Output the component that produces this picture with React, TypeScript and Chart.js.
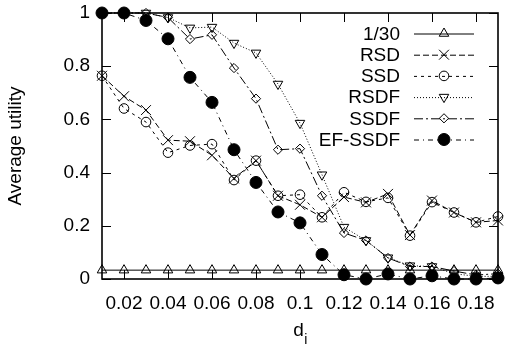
import React, { useEffect, useRef } from 'react';
import { Chart, registerables } from 'chart.js';
import { drawPoint } from 'chart.js/helpers';

Chart.register(...registerables);

const FONT = '"Liberation Sans", Arial, Helvetica, sans-serif';

const xValues = [0.01, 0.02, 0.03, 0.04, 0.05, 0.06, 0.07, 0.08, 0.09, 0.10, 0.11, 0.12, 0.13, 0.14, 0.15, 0.16, 0.17, 0.18, 0.19];

const oneThirty = [0.0333, 0.0333, 0.0333, 0.0333, 0.0333, 0.0333, 0.0333, 0.0333, 0.0333, 0.0333, 0.0333, 0.0333, 0.0333, 0.0333, 0.0333, 0.0333, 0.0333, 0.0333, 0.0333];
const rsd = [0.764, 0.687, 0.635, 0.522, 0.518, 0.465, 0.378, 0.445, 0.313, 0.279, 0.232, 0.308, 0.288, 0.32, 0.165, 0.295, 0.25, 0.213, 0.22];
const ssd = [0.764, 0.641, 0.59, 0.475, 0.502, 0.507, 0.372, 0.445, 0.313, 0.317, 0.232, 0.326, 0.29, 0.305, 0.163, 0.289, 0.25, 0.213, 0.235];
const rsdf = [1, 1, 1, 0.983, 0.944, 0.947, 0.887, 0.85, 0.733, 0.586, 0.392, 0.195, 0.145, 0.08, 0.05, 0.047, 0.02, 0.01, 0.01];
const ssdf = [1, 1, 1, 0.983, 0.902, 0.918, 0.793, 0.678, 0.486, 0.49, 0.313, 0.173, 0.145, 0.079, 0.047, 0.047, 0.03, 0.015, 0.02];
const efSsdf = [1, 1, 0.972, 0.903, 0.758, 0.664, 0.486, 0.363, 0.252, 0.211, 0.092, 0.016, 0, 0.019, 0, 0.012, 0, 0, 0.004];

const seriesLabels = ['1/30', 'RSD', 'SSD', 'RSDF', 'SSDF', 'EF-SSDF'];

const xTicks = [0.02, 0.04, 0.06, 0.08, 0.1, 0.12, 0.14, 0.16, 0.18];
const xTickLabels = ['0.02', '0.04', '0.06', '0.08', '0.1', '0.12', '0.14', '0.16', '0.18'];
const yTicks = [0, 0.2, 0.4, 0.6, 0.8, 1];
const yTickLabels = ['0', '0.2', '0.4', '0.6', '0.8', '1'];

const toPoints = (arr: number[]) => arr.map((y, i) => ({ x: xValues[i], y }));

const frameLegendPlugin = {
  id: 'gpFrameLegend',
  beforeDatasetsDraw(chart: any) {
    const { ctx, chartArea } = chart;
    const { left, right, top, bottom } = chartArea;
    const xs = chart.scales.x;
    const ys = chart.scales.y;
    ctx.save();
    ctx.strokeStyle = '#000';
    ctx.lineWidth = 1;
    const tl = 9;
    ctx.beginPath();
    xTicks.forEach((v) => {
      const px = Math.round(xs.getPixelForValue(v)) + 0.5;
      ctx.moveTo(px, bottom);
      ctx.lineTo(px, bottom - tl);
      ctx.moveTo(px, top);
      ctx.lineTo(px, top + tl);
    });
    yTicks.forEach((v) => {
      const py = Math.round(ys.getPixelForValue(v)) + 0.5;
      ctx.moveTo(left, py);
      ctx.lineTo(left + tl, py);
      ctx.moveTo(right, py);
      ctx.lineTo(right - tl, py);
    });
    ctx.stroke();
    ctx.lineWidth = 1.6;
    ctx.strokeRect(left, top, right - left, bottom - top);
    ctx.restore();
  },
  afterDraw(chart: any) {
    const { ctx, chartArea } = chart;
    ctx.save();
    // x-axis title d_i
    ctx.fillStyle = '#000';
    ctx.textBaseline = 'alphabetic';
    ctx.textAlign = 'left';
    ctx.font = `19px ${FONT}`;
    const cx = (chartArea.left + chartArea.right) / 2;
    const dW = ctx.measureText('d').width;
    ctx.font = `14px ${FONT}`;
    const iW = ctx.measureText('i').width;
    const startX = cx - (dW + iW) / 2;
    ctx.font = `19px ${FONT}`;
    ctx.fillText('d', startX, 336);
    ctx.font = `14px ${FONT}`;
    ctx.fillText('i', startX + dW + 0.5, 343.5);

    // legend
    ctx.font = `19px ${FONT}`;
    ctx.textAlign = 'right';
    ctx.textBaseline = 'middle';
    const textRight = chartArea.right - 98;
    const lineL = chartArea.right - 84;
    const lineR = chartArea.right - 24;
    const mx = (lineL + lineR) / 2;
    chart.data.datasets.forEach((ds: any, i: number) => {
      const y = 33.5 + i * 21.2;
      ctx.fillStyle = '#000';
      ctx.fillText(ds.label, textRight, y + 1);
      ctx.beginPath();
      ctx.setLineDash(ds.borderDash || []);
      ctx.lineWidth = 1;
      ctx.strokeStyle = '#000';
      ctx.moveTo(lineL, y + 0.5);
      ctx.lineTo(lineR, y + 0.5);
      ctx.stroke();
      ctx.setLineDash([]);
      ctx.fillStyle = ds.pointBackgroundColor;
      drawPoint(ctx, {
        pointStyle: ds.pointStyle,
        radius: ds.pointRadius,
        rotation: ds.pointRotation || 0,
        borderWidth: 1,
      } as any, mx, y);
    });
    ctx.restore();
  },
};

export default function App() {
  const canvasRef = useRef<HTMLCanvasElement | null>(null);

  useEffect(() => {
    const canvas = canvasRef.current;
    if (!canvas) return;
    const common = {
      borderColor: '#000',
      borderWidth: 1,
      pointBorderColor: '#000',
      pointBorderWidth: 1,
      clip: false as any,
      tension: 0,
    };
    const chart = new Chart(canvas, {
      type: 'line',
      data: {
        datasets: [
          { ...common, label: seriesLabels[0], data: toPoints(oneThirty), borderDash: [], pointStyle: 'triangle', pointRadius: 5.5, pointBackgroundColor: 'rgba(0,0,0,0)' },
          { ...common, label: seriesLabels[1], data: toPoints(rsd), borderDash: [6, 3], pointStyle: 'crossRot', pointRadius: 7, pointBackgroundColor: 'rgba(0,0,0,0)' },
          { ...common, label: seriesLabels[2], data: toPoints(ssd), borderDash: [3, 4], pointStyle: 'circle', pointRadius: 4.8, pointBackgroundColor: 'rgba(0,0,0,0)' },
          { ...common, label: seriesLabels[3], data: toPoints(rsdf), borderDash: [1, 2], pointStyle: 'triangle', pointRotation: 180, pointRadius: 5.5, pointBackgroundColor: 'rgba(0,0,0,0)' },
          { ...common, label: seriesLabels[4], data: toPoints(ssdf), borderDash: [9, 3, 2, 3], pointStyle: 'rectRot', pointRadius: 4.6, pointBackgroundColor: 'rgba(0,0,0,0)' },
          { ...common, label: seriesLabels[5], data: toPoints(efSsdf), borderDash: [5, 4, 1, 4], pointStyle: 'circle', pointRadius: 6, pointBackgroundColor: '#000' },
        ] as any,
      },
      options: {
        animation: false,
        responsive: false,
        devicePixelRatio: 1,
        layout: { padding: { top: 13, right: 3, left: 0, bottom: 0 } },
        plugins: { legend: { display: false }, tooltip: { enabled: false } },
        scales: {
          x: {
            type: 'linear',
            min: 0.01,
            max: 0.19,
            grid: { display: false, drawTicks: false },
            border: { display: false },
            afterBuildTicks: (s: any) => { s.ticks = xTicks.map((v) => ({ value: v })); },
            afterFit: (s: any) => {
              s.height = 67;
              s.paddingLeft = 0;
              s.paddingRight = 0;
            },
            ticks: {
              autoSkip: false,
              maxRotation: 0,
              minRotation: 0,
              padding: 13,
              color: '#000',
              font: { family: FONT, size: 19 },
              callback: (_v: any, i: number) => xTickLabels[i],
            },
          },
          y: {
            type: 'linear',
            min: 0,
            max: 1,
            grid: { display: false, drawTicks: false },
            border: { display: false },
            afterBuildTicks: (s: any) => { s.ticks = yTicks.map((v) => ({ value: v })); },
            afterFit: (s: any) => {
              s.width = 102;
              s.paddingTop = 0;
              s.paddingBottom = 0;
            },
            ticks: {
              autoSkip: false,
              padding: 12,
              color: '#000',
              font: { family: FONT, size: 19 },
              callback: (_v: any, i: number) => yTickLabels[i],
            },
            title: {
              display: true,
              text: 'Average utility',
              color: '#000',
              font: { family: FONT, size: 19 },
              padding: { top: 4, bottom: 0 },
            },
          },
        },
      } as any,
      plugins: [frameLegendPlugin],
    });
    return () => chart.destroy();
  }, []);

  return (
    <div style={{ position: 'fixed', left: 0, top: 0, width: 506, height: 346, background: '#fff' }}>
      <canvas ref={canvasRef} width={506} height={346} style={{ width: 506, height: 346, display: 'block' }} />
    </div>
  );
}
